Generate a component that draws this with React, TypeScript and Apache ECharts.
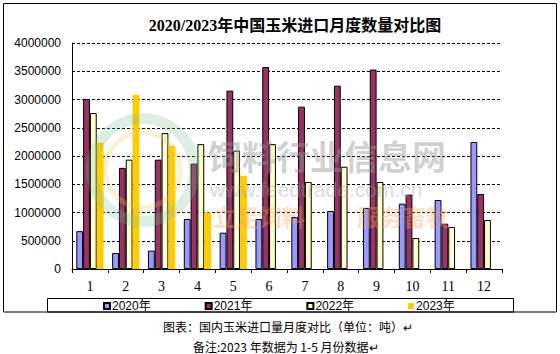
import React, { useEffect, useRef } from "react";
import * as echarts from "echarts";

const months = ["1", "2", "3", "4", "5", "6", "7", "8", "9", "10", "11", "12"];
const seriesNames = ["2020年", "2021年", "2022年", "2023年"];
const y2020 = [670000, 283000, 325000, 885000, 643000, 885000, 920000, 1027000, 1080000, 1156000, 1220000, 2248000];
const y2021 = [3010000, 1790000, 1935000, 1865000, 3157000, 3575000, 2873000, 3245000, 3530000, 1316000, 802000, 1327000];
const y2022 = [2760000, 1935000, 2407000, 2210000, 2095000, 2210000, 1540000, 1810000, 1540000, 549000, 743000, 867000];
const y2023 = [2236000, 3086000, 2180000, 1000000, 1652000];
const colors = ["#9999FF", "#993366", "#FFFFCC", "#FFCC00"];
const borders = ["#000000", "#000000", "#000000", "transparent"];

const titleText = "2020/2023年中国玉米进口月度数量对比图";
const caption1 = "图表：国内玉米进口量月度对比（单位：吨）";
const caption2 = "备注:2023 年数据为 1-5 月份数据";

export default function App() {
  const ref = useRef<HTMLDivElement>(null);
  useEffect(() => {
    if (!ref.current) return;
    const chart = echarts.init(ref.current, null, { renderer: "svg" });
    const data = [y2020, y2021, y2022, y2023];
    const sans = "Liberation Sans, Arial, Noto Sans CJK SC, sans-serif";
    const serif = "Liberation Serif, Times New Roman, Noto Sans CJK SC, serif";
    chart.setOption({
      animation: false,
      backgroundColor: "#ffffff",
      grid: { left: 72, top: 43, right: 58, bottom: 85, containLabel: false },
      legend: {
        data: seriesNames,
        left: 103,
        top: 300,
        itemWidth: 6,
        itemHeight: 6,
        itemGap: 54,
        padding: 0,
        icon: "rect",
        textStyle: { fontFamily: sans, fontSize: 12, color: "#000", padding: [1, 0, 0, -3] },
      },
      xAxis: {
        type: "category",
        data: months,
        axisLine: { lineStyle: { color: "#000", width: 1 } },
        axisTick: { show: true, inside: false, length: 4, alignWithLabel: false, lineStyle: { color: "#000" } },
        axisLabel: { fontFamily: serif, fontSize: 14, color: "#000", margin: 10 },
      },
      yAxis: {
        type: "value",
        min: 0,
        max: 4000000,
        interval: 500000,
        axisLine: { show: true, lineStyle: { color: "#000", width: 1 } },
        axisTick: { show: false },
        axisLabel: {
          fontFamily: sans,
          fontSize: 12,
          color: "#000",
          margin: 11,
          formatter: (v: number) => String(v),
        },
        splitLine: { show: true, lineStyle: { color: "#000", type: [3, 2], width: 1 } },
      },
      series: seriesNames.map((name, i) => ({
        name,
        type: "bar",
        data: data[i],
        barGap: "0%",
        barCategoryGap: "24%",
        itemStyle: { color: colors[i], borderColor: borders[i], borderWidth: i === 3 ? 0 : 1 },
      })),
      graphic: [
        {
          type: "rect",
          shape: { x: 3.5, y: 3.5, width: 553, height: 308.5 },
          style: { fill: "none", stroke: "#000", lineWidth: 1 },
          silent: true,
          z: -1,
        },
        {
          type: "rect",
          shape: { x: 47.5, y: 298.5, width: 466, height: 13.5 },
          style: { fill: "none", stroke: "#000", lineWidth: 1 },
          silent: true,
        },
        {
          type: "text",
          x: 295,
          y: 25,
          style: {
            text: titleText,
            fontFamily: serif,
            fontSize: 16,
            fontWeight: "bold",
            fill: "#000",
            textAlign: "center",
            textVerticalAlign: "middle",
          },
        },
        {
          type: "text",
          x: 163,
          y: 326,
          style: {
            text: caption1 + "↵",
            fontFamily: "Noto Sans CJK SC, sans-serif",
            fontSize: 12,
            fill: "#000",
            textAlign: "left",
            textVerticalAlign: "middle",
          },
        },
        {
          type: "text",
          x: 193,
          y: 346,
          style: {
            text: caption2 + "↵",
            fontFamily: "Noto Sans CJK SC, sans-serif",
            fontSize: 12,
            fill: "#000",
            textAlign: "left",
            textVerticalAlign: "middle",
          },
        },
        {
          type: "ring",
          shape: { cx: 143, cy: 170, r: 57, r0: 46 },
          style: { fill: "rgba(120,190,140,0.25)" },
          silent: true,
          z: 100,
        },
        {
          type: "ring",
          shape: { cx: 143, cy: 170, r: 40, r0: 35 },
          style: { fill: "rgba(240,200,90,0.25)" },
          silent: true,
          z: 100,
        },
        {
          type: "text",
          x: 208,
          y: 155,
          style: {
            text: "饲料行业信息网",
            fontFamily: "Noto Sans CJK SC, sans-serif",
            fontSize: 34,
            fontWeight: "bold",
            fill: "rgba(150,150,150,0.45)",
            textAlign: "left",
            textVerticalAlign: "middle",
          },
          silent: true,
          z: 100,
        },
        {
          type: "text",
          x: 210,
          y: 189,
          style: {
            text: "www.feedtrade.com.cn",
            fontFamily: sans,
            fontSize: 21,
            fill: "rgba(160,160,160,0.4)",
            textAlign: "left",
            textVerticalAlign: "middle",
          },
          silent: true,
          z: 100,
        },
        {
          type: "text",
          x: 213,
          y: 216,
          style: {
            text: "立足饲料",
            fontFamily: "Noto Sans CJK SC, sans-serif",
            fontSize: 23,
            fontWeight: "bold",
            fill: "rgba(255,160,80,0.35)",
            textAlign: "left",
            textVerticalAlign: "middle",
          },
          silent: true,
          z: 100,
        },
        {
          type: "text",
          x: 357,
          y: 216,
          style: {
            text: "服务畜牧",
            fontFamily: "Noto Sans CJK SC, sans-serif",
            fontSize: 23,
            fontWeight: "bold",
            fill: "rgba(255,160,80,0.35)",
            textAlign: "left",
            textVerticalAlign: "middle",
          },
          silent: true,
          z: 100,
        },
      ],
    });
    return () => chart.dispose();
  }, []);
  return (
    <div
      ref={ref}
      style={{ position: "fixed", left: 0, top: 0, width: 560, height: 354, background: "#fff" }}
    />
  );
}
